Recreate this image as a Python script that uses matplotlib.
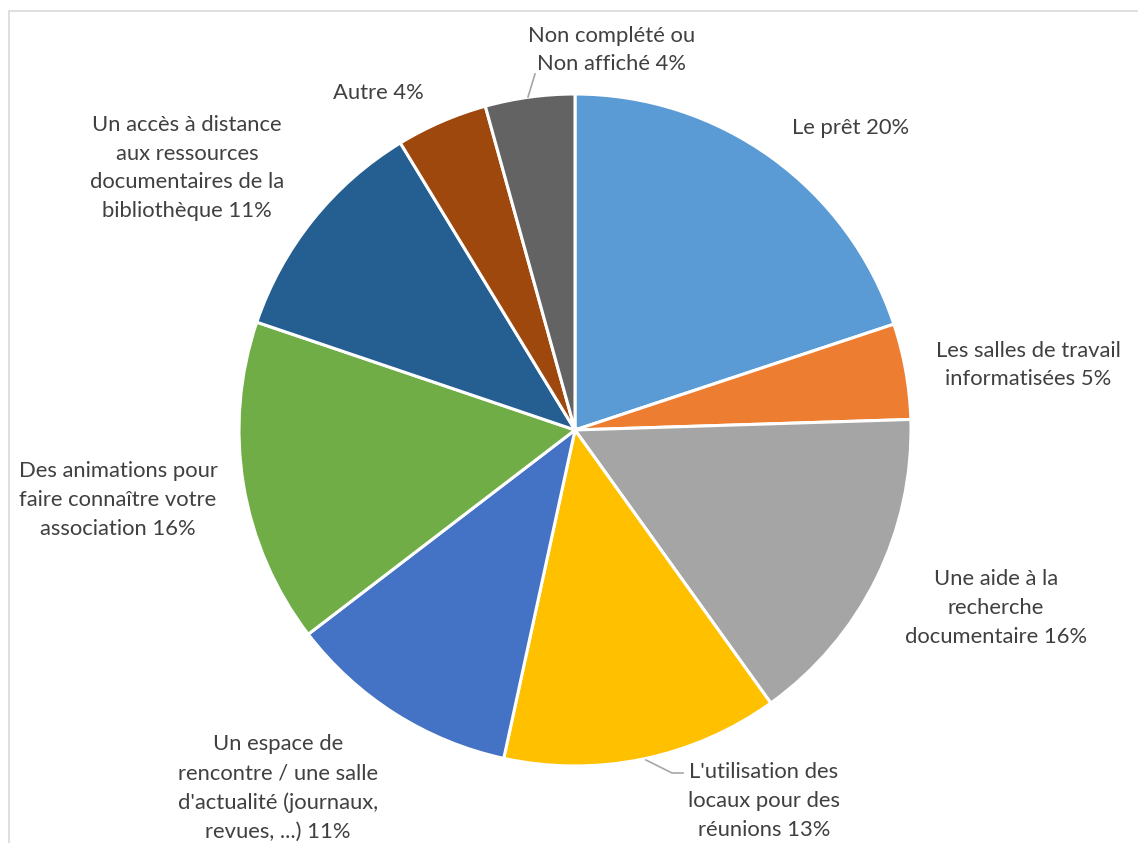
import matplotlib
matplotlib.use("Agg")
import matplotlib.pyplot as plt
from matplotlib.patches import Rectangle

labels = [
    "Le prêt",
    "Les salles de travail\ninformatisées",
    "Une aide à la\nrecherche\ndocumentaire",
    "L'utilisation des\nlocaux pour des\nréunions",
    "Un espace de\nrencontre / une salle\nd'actualité (journaux,\nrevues, ...)",
    "Des animations pour\nfaire connaître votre\nassociation",
    "Un accès à distance\naux ressources\ndocumentaires de la\nbibliothèque",
    "Autre",
    "Non complété ou\nNon affiché",
]
values = [19.9, 4.6, 15.6, 13.3, 11.2, 15.6, 11.1, 4.4, 4.3]
colors = ["#5B9BD5", "#ED7D31", "#A5A5A5", "#FFC000", "#4472C4",
          "#70AD47", "#255E91", "#9E480E", "#636363"]

W, H = 1138, 843
# label centres in pixel coords (x, y from top)
label_pos = [(851, 128), (1028, 365), (996, 608), (764, 801), (278, 788),
             (118, 500), (187, 168), (378, 93), (612, 50)]

plt.rcParams['font.family'] = ['Lato', 'DejaVu Sans']

fig = plt.figure(figsize=(W / 100, H / 100), dpi=100)
ax = fig.add_axes([0, 0, 1, 1])
ax.set_xlim(0, W)
ax.set_ylim(0, H)
ax.axis("off")

# chart area border, runs off the right / bottom
ax.add_patch(Rectangle((9, -20), W + 40, H - 11 + 20, fill=False,
                       edgecolor="#D9D9D9", linewidth=1.2))

cx, cy, r = 575, H - 430, 336
ax.pie(values, colors=colors, startangle=90, counterclock=False,
       center=(cx, cy), radius=r,
       wedgeprops=dict(edgecolor="white", linewidth=2.2))
ax.set_xlim(0, W)
ax.set_ylim(0, H)
ax.set_aspect("equal")

total = sum(values)
for lab, v, (px, py) in zip(labels, values, label_pos):
    ax.text(px, H - py, f"{lab} {round(v / total * 100):.0f}%",
            ha="center", va="center", fontsize=15.8, color="#404040",
            linespacing=1.55)

# leader lines
ax.plot([528, 535], [H - 97, H - 74], color="#A6A6A6", lw=1.2)
ax.plot([646, 672, 683], [H - 760, H - 773, H - 773], color="#A6A6A6", lw=1.2)

fig.savefig("out.png", dpi=100)
